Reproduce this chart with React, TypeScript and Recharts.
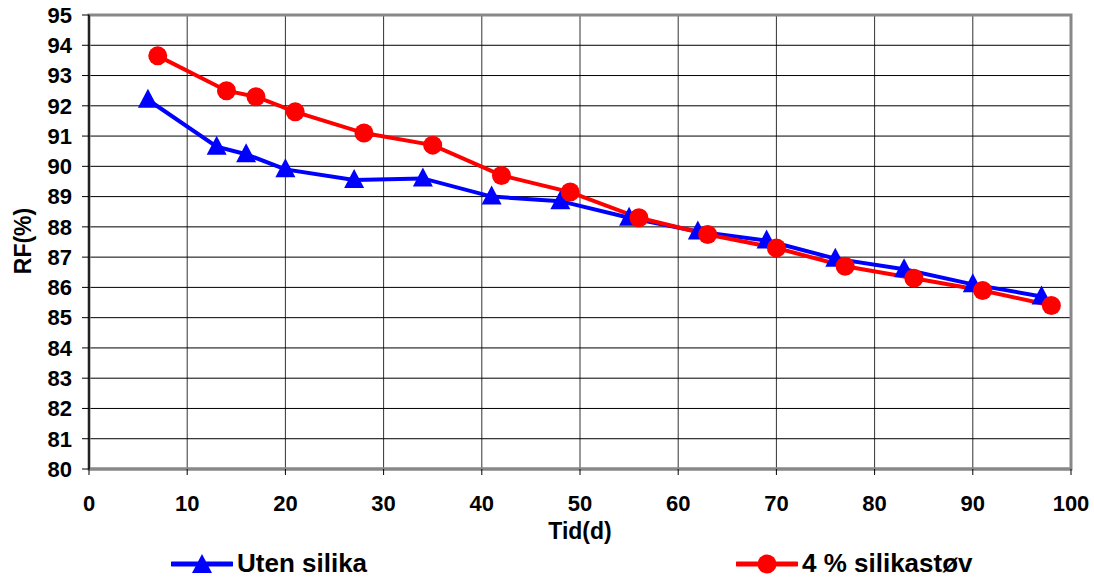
import React from 'react';
import {
  LineChart,
  Line,
  XAxis,
  YAxis,
  CartesianGrid,
  Legend,
  ReferenceArea,
} from 'recharts';

const utenDays = [6, 13, 16, 20, 27, 34, 41, 48, 55, 62, 69, 76, 83, 90, 97];
const utenRF = [92.2, 90.65, 90.4, 89.9, 89.55, 89.6, 89.0, 88.85, 88.3, 87.85, 87.55, 86.95, 86.6, 86.1, 85.7];

const silikaDays = [7, 14, 17, 21, 28, 35, 42, 49, 56, 63, 70, 77, 84, 91, 98];
const silikaRF = [93.65, 92.5, 92.3, 91.8, 91.1, 90.7, 89.7, 89.15, 88.3, 87.75, 87.3, 86.7, 86.3, 85.9, 85.4];

const xTicks = [0, 10, 20, 30, 40, 50, 60, 70, 80, 90, 100];
const yTicks = [80, 81, 82, 83, 84, 85, 86, 87, 88, 89, 90, 91, 92, 93, 94, 95];

const utenData = utenDays.map((d, i) => ({ x: d, rf: utenRF[i] }));
const silikaData = silikaDays.map((d, i) => ({ x: d, rf: silikaRF[i] }));

const FONT = '"Liberation Sans", Arial, sans-serif';
const BLUE = '#0000ff';
const RED = '#ff0000';

const tickStyle = { fontFamily: FONT, fontWeight: 700, fontSize: 22, fill: '#000' };

const Triangle = (props: any) => {
  const { cx, cy, index } = props;
  if (cx == null || cy == null) return <g key={index} />;
  return (
    <polygon
      key={index}
      points={`${cx},${cy - 11} ${cx - 10},${cy + 8} ${cx + 10},${cy + 8}`}
      fill={BLUE}
    />
  );
};

const LegendContent = () => (
  <div style={{ position: 'relative', width: 1094, height: 37, fontFamily: FONT, fontWeight: 700, fontSize: 26 }}>
    <div style={{ position: 'absolute', left: 171, top: 0, display: 'flex', alignItems: 'center', height: 37 }}>
      <svg width={62} height={24}>
        <line x1={1} y1={12} x2={61} y2={12} stroke={BLUE} strokeWidth={5} strokeLinecap="round" />
        <polygon points="31,2 21,21 41,21" fill={BLUE} />
      </svg>
      <span style={{ marginLeft: 4 }}>Uten silika</span>
    </div>
    <div style={{ position: 'absolute', left: 736, top: 0, display: 'flex', alignItems: 'center', height: 37 }}>
      <svg width={62} height={24}>
        <line x1={1} y1={12} x2={61} y2={12} stroke={RED} strokeWidth={5} strokeLinecap="round" />
        <circle cx={31} cy={12} r={9.5} fill={RED} />
      </svg>
      <span style={{ marginLeft: 4 }}>4 % silikastøv</span>
    </div>
  </div>
);

const App = () => {
  return (
    <div style={{ position: 'absolute', left: 0, top: 0, width: 1094, height: 577, background: '#fff', overflow: 'hidden' }}>
      <LineChart width={1094} height={577} margin={{ top: 15, right: 23, bottom: 41, left: 0 }}>
        <ReferenceArea x1={0} x2={100} y1={80} y2={95} fill="none" stroke="#888" strokeWidth={3} />
        <CartesianGrid horizontal={false} stroke="#333" strokeWidth={1} />
        <CartesianGrid vertical={false} stroke="#000" strokeWidth={1} />
        <XAxis
          dataKey="x"
          type="number"
          domain={[0, 100]}
          ticks={xTicks}
          allowDataOverflow
          tick={tickStyle}
          tickSize={6}
          tickMargin={20}
          axisLine={{ stroke: '#888', strokeWidth: 3 }}
          tickLine={{ stroke: '#000' }}
          height={30}
          label={{
            value: 'Tid(d)',
            position: 'bottom',
            offset: 24,
            style: { fontFamily: FONT, fontWeight: 700, fontSize: 23, fill: '#000' },
          }}
        />
        <YAxis
          dataKey="rf"
          type="number"
          domain={[80, 95]}
          ticks={yTicks}
          interval={0}
          allowDataOverflow
          width={89}
          tick={tickStyle}
          tickSize={7}
          tickMargin={10}
          axisLine={{ stroke: '#000', strokeWidth: 1.5 }}
          tickLine={{ stroke: '#000' }}
          label={{
            content: () => (
              <text
                transform="translate(31,241) rotate(-90)"
                textAnchor="middle"
                style={{ fontFamily: FONT, fontWeight: 700, fontSize: 23, fill: '#000' }}
              >
                RF(%)
              </text>
            ),
          }}
        />
        <Legend
          content={LegendContent}
          wrapperStyle={{ position: 'absolute', left: 0, top: 545, width: 1094 }}
        />
        <Line
          data={utenData}
          dataKey="rf"
          name="Uten silika"
          stroke={BLUE}
          strokeWidth={4}
          dot={Triangle}
          activeDot={false}
          isAnimationActive={false}
        />
        <Line
          data={silikaData}
          dataKey="rf"
          name="4 % silikastøv"
          stroke={RED}
          strokeWidth={4}
          dot={{ r: 9.5, fill: RED, stroke: RED, strokeWidth: 0 }}
          activeDot={false}
          isAnimationActive={false}
        />
      </LineChart>
    </div>
  );
};

export default App;
